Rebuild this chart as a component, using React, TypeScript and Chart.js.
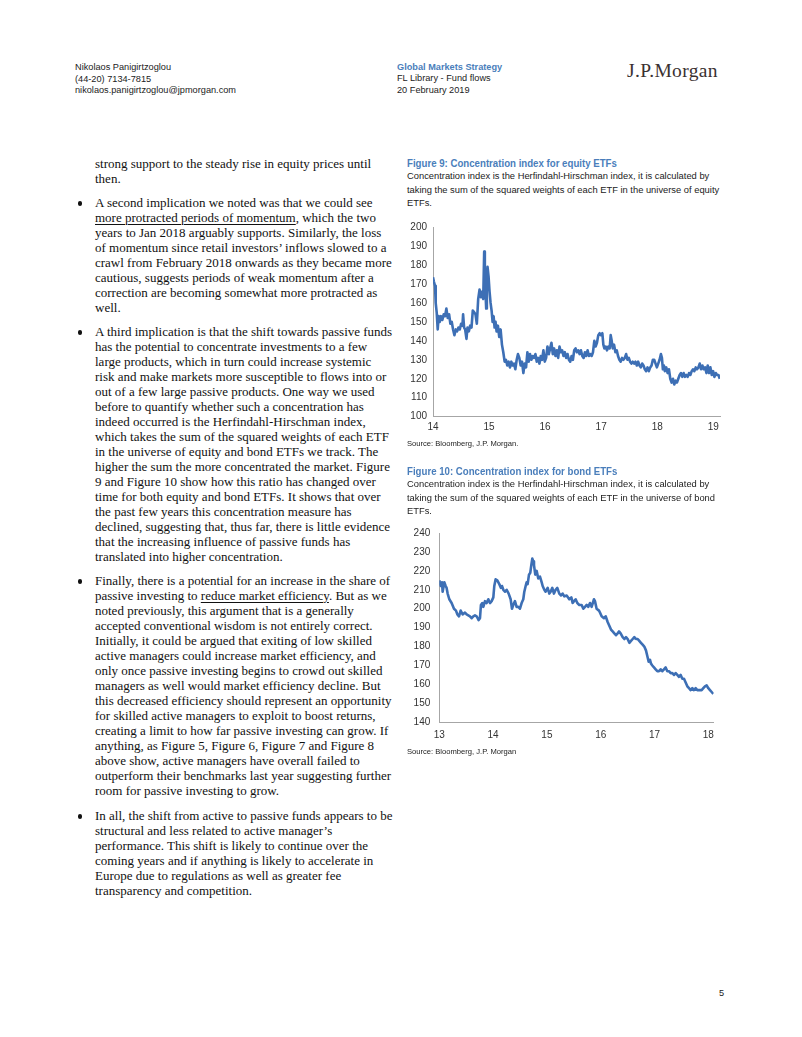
import React, { useEffect, useRef } from 'react';
import { Chart, registerables } from 'chart.js';

Chart.register(...registerables);

const SERIF = '"Liberation Serif", "Times New Roman", serif';
const SANS = '"Liberation Sans", Arial, sans-serif';
const BLUE_TEXT = '#4A7EBB';
const LINE_BLUE = '#3D6FB5';

// ---------- Figure 9: equity ETFs concentration index ----------
const equityDates = [
  14.000, 14.018, 14.036, 14.048, 14.066, 14.084, 14.101, 14.119, 14.143, 14.167,
  14.191, 14.215, 14.239, 14.263, 14.287, 14.310, 14.334, 14.358, 14.382, 14.406,
  14.430, 14.454, 14.478, 14.501, 14.525, 14.537, 14.555, 14.573, 14.597, 14.615,
  14.639, 14.663, 14.687, 14.710, 14.734, 14.758, 14.782, 14.806, 14.830, 14.854,
  14.878, 14.896, 14.913, 14.925, 14.937, 14.949, 14.961, 14.973, 14.991, 15.009,
  15.027, 15.045, 15.063, 15.081, 15.099, 15.116, 15.134, 15.158, 15.182, 15.206,
  15.230, 15.254, 15.278, 15.301, 15.325, 15.349, 15.373, 15.397, 15.421, 15.445,
  15.469, 15.493, 15.516, 15.540, 15.564, 15.588, 15.612, 15.636, 15.660, 15.684,
  15.707, 15.731, 15.755, 15.779, 15.803, 15.827, 15.851, 15.875, 15.899, 15.922,
  15.946, 15.970, 15.994, 16.018, 16.042, 16.066, 16.090, 16.113, 16.137, 16.161,
  16.185, 16.209, 16.233, 16.257, 16.281, 16.304, 16.328, 16.352, 16.376, 16.400,
  16.424, 16.448, 16.472, 16.496, 16.519, 16.543, 16.567, 16.591, 16.615, 16.639,
  16.663, 16.687, 16.710, 16.734, 16.758, 16.782, 16.806, 16.830, 16.854, 16.878,
  16.901, 16.925, 16.949, 16.973, 16.997, 17.021, 17.039, 17.057, 17.081, 17.104,
  17.128, 17.152, 17.170, 17.188, 17.206, 17.230, 17.254, 17.278, 17.301, 17.325,
  17.349, 17.373, 17.397, 17.421, 17.445, 17.469, 17.493, 17.516, 17.540, 17.564,
  17.588, 17.612, 17.636, 17.660, 17.684, 17.707, 17.731, 17.755, 17.779, 17.803,
  17.827, 17.851, 17.875, 17.899, 17.922, 17.946, 17.970, 17.994, 18.018, 18.042,
  18.066, 18.084, 18.101, 18.119, 18.137, 18.161, 18.185, 18.209, 18.233, 18.257,
  18.281, 18.304, 18.328, 18.352, 18.376, 18.400, 18.424, 18.448, 18.472, 18.496,
  18.519, 18.543, 18.567, 18.591, 18.615, 18.639, 18.663, 18.687, 18.710, 18.734,
  18.758, 18.782, 18.806, 18.830, 18.854, 18.878, 18.901, 18.925, 18.949, 18.973,
  18.997, 19.021, 19.045, 19.069, 19.093, 19.116,
];
const equityValues = [
  173.5, 171, 169, 160, 155, 146, 153, 150, 153, 151,
  154, 153, 157, 152, 154, 149, 150, 146, 143, 146,
  145, 147, 146, 149, 148, 154, 147, 146, 141, 147,
  145, 148, 147, 156, 155, 154, 149, 162, 167, 163,
  166, 162, 187, 172, 165, 157, 170, 179, 174, 166,
  160, 156, 150, 153, 147, 150, 145, 148, 142, 146,
  138, 134, 129, 130, 127, 129, 126, 129, 127, 128,
  125, 130, 133, 131, 127, 129, 123, 128, 126, 134,
  129, 133, 130, 132, 131, 133, 129, 131, 128, 132,
  130, 135, 129, 131, 137, 133, 136, 139, 133, 136,
  132, 135, 131, 137, 134, 135, 132, 134, 131, 133,
  130, 129, 132, 130, 135, 136, 134, 135, 133, 135,
  132, 131, 134, 132, 135, 132, 133, 132, 134, 140,
  137, 139, 143, 144, 143, 144, 138, 136, 137, 135,
  137, 136, 143, 140, 136, 138, 134, 135, 132, 130,
  129, 131, 130, 131, 133, 130, 131, 129, 128, 129,
  128, 129, 127, 129, 127, 126, 128, 127, 125, 124,
  126, 124, 126, 127, 130, 130, 128, 126, 128, 130,
  133, 131, 125, 127, 124, 126, 123, 125, 120, 118,
  120, 117, 119, 118, 120, 122, 123, 121, 123, 121,
  122, 121, 123, 122, 124, 125, 124, 126, 125, 126,
  128, 125, 127, 125, 126, 123, 127, 123, 126, 122,
  124, 121, 123, 122, 122, 120,
];
const equityXTicks = [14, 15, 16, 17, 18, 19];
const equityYTicks = [100, 110, 120, 130, 140, 150, 160, 170, 180, 190, 200];

// ---------- Figure 10: bond ETFs concentration index ----------
const bondDates = [
  13.000, 13.025, 13.050, 13.062, 13.093, 13.118, 13.136, 13.155, 13.186, 13.229,
  13.273, 13.310, 13.335, 13.366, 13.397, 13.434, 13.477, 13.508, 13.539, 13.570,
  13.601, 13.632, 13.663, 13.694, 13.713, 13.731, 13.756, 13.774, 13.799, 13.818,
  13.849, 13.880, 13.911, 13.942, 13.973, 14.004, 14.022, 14.047, 14.078, 14.115,
  14.146, 14.165, 14.190, 14.221, 14.252, 14.289, 14.326, 14.351, 14.375, 14.406,
  14.437, 14.468, 14.499, 14.530, 14.561, 14.580, 14.605, 14.623, 14.642, 14.667,
  14.691, 14.710, 14.729, 14.747, 14.760, 14.784, 14.809, 14.840, 14.871, 14.902,
  14.921, 14.952, 14.976, 15.014, 15.045, 15.069, 15.100, 15.131, 15.162, 15.193,
  15.230, 15.261, 15.292, 15.323, 15.367, 15.416, 15.454, 15.478, 15.503, 15.534,
  15.565, 15.602, 15.646, 15.677, 15.708, 15.739, 15.770, 15.801, 15.831, 15.875,
  15.893, 15.924, 15.968, 15.986, 16.017, 16.061, 16.092, 16.129, 16.160, 16.191,
  16.222, 16.253, 16.284, 16.315, 16.340, 16.370, 16.408, 16.439, 16.470, 16.501,
  16.532, 16.563, 16.594, 16.625, 16.656, 16.687, 16.717, 16.748, 16.779, 16.810,
  16.841, 16.866, 16.891, 16.916, 16.934, 16.959, 16.990, 17.021, 17.052, 17.083,
  17.114, 17.145, 17.176, 17.207, 17.238, 17.269, 17.300, 17.331, 17.362, 17.393,
  17.424, 17.455, 17.486, 17.517, 17.548, 17.579, 17.610, 17.641, 17.672, 17.703,
  17.734, 17.765, 17.796, 17.845, 17.876, 17.907, 17.938, 17.969, 18.000, 18.031,
  18.062, 18.093,
];
const bondValues = [
  215, 212, 214, 209, 214, 212, 211, 208, 205, 203,
  200, 199, 197, 196, 199, 197, 198, 197, 196.5, 196,
  195, 196, 196.5, 196, 195, 194, 195, 202, 203, 201,
  204, 203, 205, 203, 204, 206, 212, 215.5, 215, 213,
  211, 212, 210, 209, 210, 208, 205, 200, 202, 204,
  201, 201, 200, 203, 205, 209, 212, 214, 213, 218,
  219, 223, 226.5, 225, 223, 218, 220, 216, 217, 214,
  212, 210, 209, 211, 208, 209, 211, 208, 210, 211,
  208, 207, 208, 206.5, 207, 205, 206, 203, 204, 205,
  203, 202, 202, 200, 201, 202, 201, 203, 201, 205,
  204, 200, 199, 198, 196, 195, 196, 193, 191, 189,
  188, 187, 186, 187, 188, 187, 185, 184, 185, 184,
  182, 183, 184, 185, 184, 184, 183, 182, 181, 180,
  178, 175, 172, 173, 171, 170, 169, 168, 167, 167,
  168, 167, 168, 169, 167, 167, 166, 166, 165, 166,
  165, 164, 165, 163, 163, 161, 159, 158, 157, 158,
  157, 158, 157, 157, 157, 158, 159, 159.5, 158, 157,
  156, 155,
];
const bondXTicks = [13, 14, 15, 16, 17, 18];
const bondYTicks = [140, 150, 160, 170, 180, 190, 200, 210, 220, 230, 240];

type ChartProps = {
  left: number; top: number; width: number; height: number;
  dates: number[]; values: number[];
  xMin: number; xMax: number; xTicks: number[]; yTicks: number[];
  yAxisWidth: number; xAxisHeight: number; padTop: number; padRight: number;
  yLabelPad: number; xLabelPad: number;
};

function LineChart(p: ChartProps) {
  const ref = useRef<HTMLCanvasElement>(null);
  useEffect(() => {
    if (!ref.current) return;
    const n = Math.min(p.dates.length, p.values.length);
    const pts = [] as { x: number; y: number }[];
    for (let i = 0; i < n; i++) pts.push({ x: p.dates[i], y: p.values[i] });
    const tickFont = { family: SANS, size: 10 };
    const chart = new Chart(ref.current, {
      type: 'line',
      data: {
        datasets: [{
          data: pts,
          borderColor: LINE_BLUE,
          borderWidth: 2.6,
          pointRadius: 0,
          tension: 0,
          fill: false,
          borderJoinStyle: 'round',
        }],
      },
      options: {
        animation: false,
        responsive: false,
        devicePixelRatio: 1,
        events: [],
        layout: { padding: { top: p.padTop, right: p.padRight, left: 0, bottom: 0 } },
        plugins: { legend: { display: false }, tooltip: { enabled: false } },
        scales: {
          x: {
            type: 'linear',
            min: p.xMin,
            max: p.xMax,
            afterBuildTicks: (s: any) => { s.ticks = p.xTicks.map((v) => ({ value: v })); },
            afterFit: (s: any) => { s.height = p.xAxisHeight; },
            grid: { display: true, drawOnChartArea: false, drawTicks: false },
            border: { display: true, color: '#A6A6A6', width: 1 },
            ticks: {
              padding: p.xLabelPad, color: '#333', font: tickFont,
              maxRotation: 0, autoSkip: false, callback: (v: any) => String(v),
            },
          },
          y: {
            type: 'linear',
            min: p.yTicks[0],
            max: p.yTicks[p.yTicks.length - 1],
            afterBuildTicks: (s: any) => { s.ticks = p.yTicks.map((v) => ({ value: v })); },
            afterFit: (s: any) => { s.width = p.yAxisWidth; },
            grid: { display: true, drawOnChartArea: false, drawTicks: false },
            border: { display: true, color: '#A6A6A6', width: 1 },
            ticks: { padding: p.yLabelPad, color: '#333', font: tickFont, autoSkip: false, callback: (v: any) => String(v) },
          },
        },
      },
    } as any);
    return () => chart.destroy();
  }, []);
  return (
    <canvas
      ref={ref}
      width={p.width}
      height={p.height}
      style={{ position: 'absolute', left: p.left, top: p.top, width: p.width, height: p.height }}
    />
  );
}

type TProps = {
  x: number; y: number; size: number; family?: string; color?: string;
  bold?: boolean; lh?: number; sx?: number; ls?: number; children: React.ReactNode;
};
function T({ x, y, size, family = SANS, color = '#222', bold = false, lh, sx, ls, children }: TProps) {
  const h = lh || Math.round(size * 1.3);
  return (
    <div
      style={{
        position: 'absolute', left: x, top: y - h / 2, height: h, lineHeight: h + 'px',
        fontSize: size, fontFamily: family, color, fontWeight: bold ? 'bold' : 'normal',
        whiteSpace: 'nowrap',
        letterSpacing: ls ? ls + 'px' : undefined,
        transform: sx ? `scaleX(${sx})` : undefined, transformOrigin: 'left center',
      }}
    >
      {children}
    </div>
  );
}

const U = ({ children }: { children: React.ReactNode }) => (
  <span style={{ textDecoration: 'underline', textUnderlineOffset: '2px', textDecorationThickness: '1px' }}>{children}</span>
);

const BODY_SIZE = 13;
const BODY_LH = 15;

function Para({ y, lines, bullet }: { y: number; lines: React.ReactNode[]; bullet?: boolean }) {
  return (
    <>
      {bullet && (
        <div style={{
          position: 'absolute', left: 77.8, top: y - 0.8, width: 4.4, height: 4.4,
          borderRadius: '50%', background: '#111',
        }} />
      )}
      {lines.map((l, i) => (
        <T key={i} x={95} y={y + i * BODY_LH} size={BODY_SIZE} family={SERIF} color="#111" lh={BODY_LH}>{l}</T>
      ))}
    </>
  );
}

export default function App() {
  return (
    <div
      style={{
        position: 'absolute', left: 0, top: 0, width: 802, height: 1037,
        background: '#fff', overflow: 'hidden',
      }}
    >
      {/* Header */}
      <T x={75} y={67} size={9.2} color="#222">Nikolaos Panigirtzoglou</T>
      <T x={75} y={79} size={9.2} color="#222">(44-20) 7134-7815</T>
      <T x={75} y={90} size={9.2} color="#222">nikolaos.panigirtzoglou@jpmorgan.com</T>
      <T x={397} y={67} size={9.2} color={BLUE_TEXT} bold>Global Markets Strategy</T>
      <T x={397} y={78} size={9.2} color="#222">FL Library - Fund flows</T>
      <T x={397} y={90} size={9.2} color="#222">20 February 2019</T>
      <T x={627} y={70} size={19.5} family={SERIF} color="#3A3131" ls={0.35}>J.P.Morgan</T>

      {/* Left column */}
      <Para y={163} lines={[
        'strong support to the steady rise in equity prices until',
        'then.',
      ]} />
      <Para y={202} bullet lines={[
        'A second implication we noted was that we could see',
        <><U>more protracted periods of momentum</U>, which the two</>,
        'years to Jan 2018 arguably supports. Similarly, the loss',
        'of momentum since retail investors’ inflows slowed to a',
        'crawl from February 2018 onwards as they became more',
        'cautious, suggests periods of weak momentum after a',
        'correction are becoming somewhat more protracted as',
        'well.',
      ]} />
      <Para y={331} bullet lines={[
        'A third implication is that the shift towards passive funds',
        'has the potential to concentrate investments to a few',
        'large products, which in turn could increase systemic',
        'risk and make markets more susceptible to flows into or',
        'out of a few large passive products. One way we used',
        'before to quantify whether such a concentration has',
        'indeed occurred is the Herfindahl-Hirschman index,',
        'which takes the sum of the squared weights of each ETF',
        'in the universe of equity and bond ETFs we track. The',
        'higher the sum the more concentrated the market. Figure',
        '9 and Figure 10 show how this ratio has changed over',
        'time for both equity and bond ETFs. It shows that over',
        'the past few years this concentration measure has',
        'declined, suggesting that, thus far, there is little evidence',
        'that the increasing influence of passive funds has',
        'translated into higher concentration.',
      ]} />
      <Para y={580} bullet lines={[
        'Finally, there is a potential for an increase in the share of',
        <>passive investing to <U>reduce market efficiency</U>. But as we</>,
        'noted previously, this argument that is a generally',
        'accepted conventional wisdom is not entirely correct.',
        'Initially, it could be argued that exiting of low skilled',
        'active managers could increase market efficiency, and',
        'only once passive investing begins to crowd out skilled',
        'managers as well would market efficiency decline. But',
        'this decreased efficiency should represent an opportunity',
        'for skilled active managers to exploit to boost returns,',
        'creating a limit to how far passive investing can grow. If',
        'anything, as Figure 5, Figure 6, Figure 7 and Figure 8',
        'above show, active managers have overall failed to',
        'outperform their benchmarks last year suggesting further',
        'room for passive investing to grow.',
      ]} />
      <Para y={815} bullet lines={[
        'In all, the shift from active to passive funds appears to be',
        'structural and less related to active manager’s',
        'performance. This shift is likely to continue over the',
        'coming years and if anything is likely to accelerate in',
        'Europe due to regulations as well as greater fee',
        'transparency and competition.',
      ]} />

      {/* Figure 9 */}
      <T x={407} y={162.5} size={10.5} color={BLUE_TEXT} bold sx={0.92}>Figure 9: Concentration index for equity ETFs</T>
      <T x={407} y={176} size={9.35} color="#222">Concentration index is the Herfindahl-Hirschman index, it is calculated by</T>
      <T x={407} y={189.5} size={9.35} color="#222">taking the sum of the squared weights of each ETF in the universe of equity</T>
      <T x={407} y={203} size={9.35} color="#222">ETFs.</T>
      <LineChart
        left={400} top={215} width={330} height={225}
        dates={equityDates} values={equityValues}
        xMin={14} xMax={19.12} xTicks={equityXTicks} yTicks={equityYTicks}
        yAxisWidth={33} xAxisHeight={23.3} padTop={9.3} padRight={10}
        yLabelPad={6} xLabelPad={5}
      />
      <T x={407} y={444} size={7.6} color="#222">Source: Bloomberg, J.P. Morgan.</T>

      {/* Figure 10 */}
      <T x={407} y={470.5} size={10.5} color={BLUE_TEXT} bold sx={0.92}>Figure 10: Concentration index for bond ETFs</T>
      <T x={407} y={484} size={9.35} color="#222">Concentration index is the Herfindahl-Hirschman index, it is calculated by</T>
      <T x={407} y={497.5} size={9.35} color="#222">taking the sum of the squared weights of each ETF in the universe of bond</T>
      <T x={407} y={511} size={9.35} color="#222">ETFs.</T>
      <LineChart
        left={400} top={518} width={330} height={230}
        dates={bondDates} values={bondValues}
        xMin={13} xMax={18.1} xTicks={bondXTicks} yTicks={bondYTicks}
        yAxisWidth={39.3} xAxisHeight={25.7} padTop={9.3} padRight={16.3}
        yLabelPad={9} xLabelPad={7}
      />
      <T x={407} y={752} size={7.6} color="#222">Source: Bloomberg, J.P. Morgan</T>

      {/* Page number */}
      <T x={719} y={993} size={9.2} color="#222">5</T>
    </div>
  );
}
